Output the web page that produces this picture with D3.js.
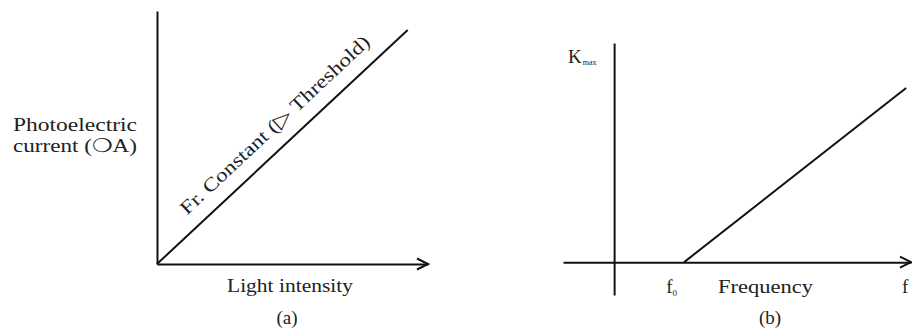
<!DOCTYPE html>
<html>
<head>
<meta charset="utf-8">
<script src="https://cdn.jsdelivr.net/npm/d3@7"></script>
<style>
  html, body { margin: 0; padding: 0; background: #fff; }
  svg { display: block; }
  text { font-family: "Liberation Serif", "Times New Roman", serif; fill: #222; }
  .axis path { stroke: #111; stroke-width: 2; fill: none; }
  .mark { stroke: #111; stroke-width: 2; fill: none; }
</style>
</head>
<body>
<svg id="chart" width="912" height="333"></svg>
<script>
// Panel (a): photoelectric current grows linearly with light intensity
const intensity = [0, 9.25];
const current = [0, 9.25];

// Panel (b): maximum kinetic energy vs frequency, zero up to the threshold f0
const frequency = [1, 4.17];
const kineticMax = [0, 7.95];

// Label texts
const aTitles = ["Photoelectric", "current (\u274DA)"];
const aXLabel = "Light intensity";
const aLineLabel = "Fr. Constant (\u25B7 Threshold)";
const bXLabel = "Frequency";
const captions = ["(a)", "(b)"];

const svg = d3.select("#chart");

// ---------- Panel (a) ----------
const xa = d3.scaleLinear().domain([0, 10]).range([157, 428]);
const ya = d3.scaleLinear().domain([0, 10]).range([264, 11]);

const gA = svg.append("g");

gA.append("g").attr("class", "axis")
  .attr("transform", `translate(0,${ya(0)})`)
  .call(d3.axisBottom(xa).tickValues([]).tickSizeOuter(0));
gA.append("g").attr("class", "axis")
  .attr("transform", `translate(${xa(0)},0)`)
  .call(d3.axisLeft(ya).tickValues([]).tickSizeOuter(0));

// open arrow head at the end of the x axis
function chevron(g, tipX, tipY) {
  g.append("path").attr("class", "mark")
    .attr("d", `M${tipX - 11},${tipY - 5.5}L${tipX},${tipY}L${tipX - 11},${tipY + 5.5}`);
}
chevron(gA, xa.range()[1], ya(0));

const lineA = d3.line().x(d => xa(d[0])).y(d => ya(d[1]));
const ptsA = d3.zip(intensity, current);
gA.append("path").attr("class", "mark").attr("d", lineA(ptsA));

// label running along the line
{
  const p0 = [xa(intensity[0]), ya(current[0])];
  const p1 = [xa(intensity[1]), ya(current[1])];
  const ang = Math.atan2(p1[1] - p0[1], p1[0] - p0[0]);
  const along = 55, off = 15;
  const ux = Math.cos(ang), uy = Math.sin(ang);
  const tx = p0[0] + ux * along + uy * off;
  const ty = p0[1] + uy * along - ux * off;
  gA.append("text")
    .attr("transform", `translate(${tx},${ty}) rotate(${ang * 180 / Math.PI})`)
    .attr("font-size", 19)
    .attr("textLength", 252).attr("lengthAdjust", "spacingAndGlyphs")
    .text(aLineLabel);
}

gA.selectAll("text.ytitle").data(aTitles).join("text")
  .attr("class", "ytitle")
  .attr("x", 13).attr("y", (d, i) => 131 + i * 21)
  .attr("font-size", 19)
  .attr("textLength", 124).attr("lengthAdjust", "spacingAndGlyphs")
  .text(d => d);

gA.append("text").attr("x", 227).attr("y", 292)
  .attr("font-size", 19)
  .attr("textLength", 126).attr("lengthAdjust", "spacingAndGlyphs")
  .text(aXLabel);

gA.append("text").attr("x", 287).attr("y", 324)
  .attr("font-size", 19).attr("text-anchor", "middle")
  .text(captions[0]);

// ---------- Panel (b) ----------
const xb = d3.scaleLinear().domain([-0.73, 4.24]).range([563, 911]);
const yb = d3.scaleLinear().domain([-1.5, 10]).range([295, 43]);

const gB = svg.append("g");

gB.append("g").attr("class", "axis")
  .attr("transform", `translate(0,${yb(0)})`)
  .call(d3.axisBottom(xb).tickValues([]).tickSizeOuter(0));
gB.append("g").attr("class", "axis")
  .attr("transform", `translate(${xb(0)},0)`)
  .call(d3.axisLeft(yb).tickValues([]).tickSizeOuter(0));
chevron(gB, xb.range()[1], yb(0));

const lineB = d3.line().x(d => xb(d[0])).y(d => yb(d[1]));
gB.append("path").attr("class", "mark").attr("d", lineB(d3.zip(frequency, kineticMax)));

// K_max
const kLab = gB.append("text").attr("x", 568).attr("y", 63).attr("font-size", 19);
kLab.append("tspan").text("K");
kLab.append("tspan").attr("font-size", 8).attr("dy", 2).attr("dx", 1).text("max");

// f0 at the threshold
const f0Lab = gB.append("text").attr("x", xb(frequency[0]) - 18).attr("y", 293).attr("font-size", 19);
f0Lab.append("tspan").text("f");
f0Lab.append("tspan").attr("font-size", 9).attr("dy", 3).text("0");

gB.append("text").attr("x", 718).attr("y", 293)
  .attr("font-size", 19)
  .attr("textLength", 95).attr("lengthAdjust", "spacingAndGlyphs")
  .text(bXLabel);

gB.append("text").attr("x", 902).attr("y", 293).attr("font-size", 19).text("f");

gB.append("text").attr("x", 770).attr("y", 324)
  .attr("font-size", 19).attr("text-anchor", "middle")
  .text(captions[1]);
</script>
</body>
</html>
